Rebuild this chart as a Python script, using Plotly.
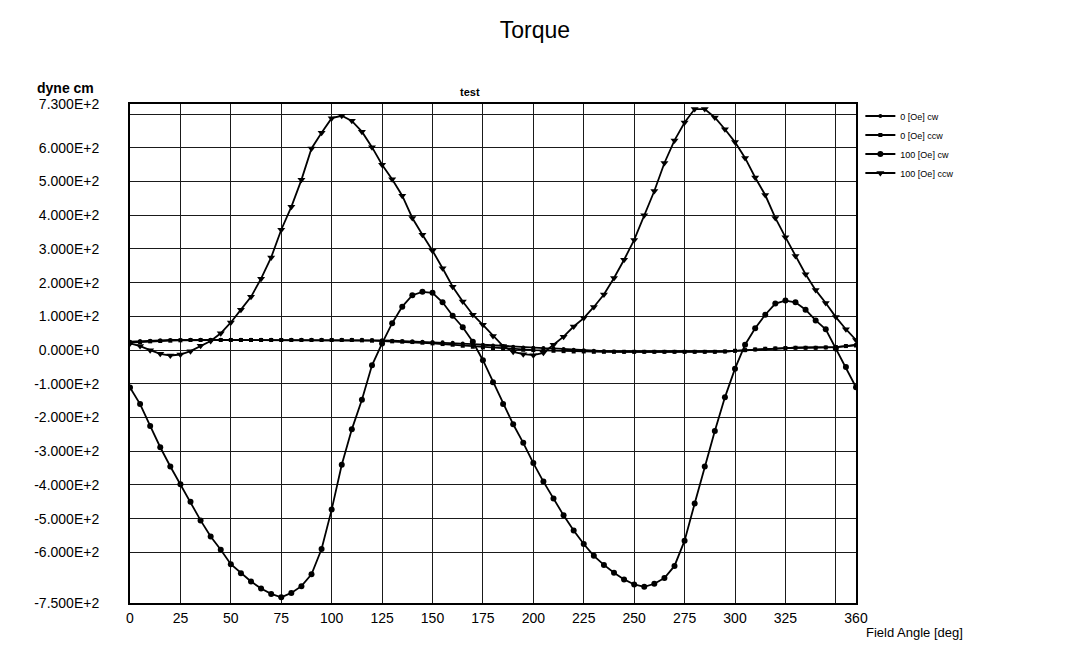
import plotly.graph_objects as go

# ---- data ----
angle = list(range(0, 361, 5))

oe0_cw = [25, 27, 28, 29, 30, 30, 31, 31, 31, 31, 31, 31, 31, 31, 31, 31, 31, 31,
          31, 31, 31, 31, 31, 31, 30, 29, 28, 27, 26, 25, 24, 23, 22, 20, 18, 16,
          14, 12, 10, 8, 7, 6, 5, 3, 1, 0, -2, -3, -4, -5, -5, -5, -5, -5, -5, -5,
          -5, -5, -5, -4, -2, 0, 2, 4, 5, 6, 7, 7, 7, 8, 9, 12, 16]

oe0_ccw = [22, 24, 26, 27, 28, 29, 30, 30, 30, 30, 30, 30, 30, 30, 30, 30, 30, 30,
           30, 30, 30, 30, 30, 29, 28, 27, 26, 25, 24, 22, 20, 18, 16, 13, 10, 8,
           6, 4, 2, 1, 0, -1, -2, -3, -4, -4, -5, -5, -5, -5, -5, -5, -5, -5, -5,
           -5, -5, -5, -5, -4, -2, 0, 2, 4, 5, 6, 7, 7, 7, 8, 9, 12, 14]

oe100_cw = [-111, -160, -225, -288, -345, -398, -450, -505, -553, -592, -635, -662,
            -686, -707, -723, -733, -720, -700, -665, -590, -473, -340, -235, -147,
            -45, 20, 80, 129, 163, 173, 170, 142, 102, 68, 25, -30, -95, -160, -220,
            -275, -335, -390, -440, -490, -535, -575, -610, -637, -660, -680, -695,
            -702, -693, -676, -640, -565, -455, -345, -240, -140, -55, 16, 65, 105,
            138, 147, 142, 120, 88, 62, 5, -50, -110]

oe100_ccw = [20, 12, 0, -11, -16, -13, -3, 13, 27, 50, 82, 120, 158, 212, 275, 357,
             425, 505, 598, 645, 688, 695, 680, 648, 602, 550, 507, 458, 392, 342,
             295, 243, 188, 144, 105, 75, 42, 12, -5, -12, -15, -8, 16, 40, 70, 95,
             128, 165, 214, 268, 327, 400, 472, 555, 622, 675, 715, 715, 690, 655,
             617, 570, 512, 460, 392, 335, 279, 225, 178, 140, 98, 62, 30]

series_names = ["0 [Oe] cw", "0 [Oe] ccw", "100 [Oe] cw", "100 [Oe] ccw"]

x_tickvals = [0, 25, 50, 75, 100, 125, 150, 175, 200, 225, 250, 275, 300, 325, 350, 360]
x_ticktext = ["0", "25", "50", "75", "100", "125", "150", "175", "200", "225", "250",
              "275", "300", "325", "", "360"]

y_tickvals = [730, 700, 600, 500, 400, 300, 200, 100, 0, -100, -200, -300, -400,
              -500, -600, -750]
y_ticktext = ["7.300E+2", "", "6.000E+2", "5.000E+2", "4.000E+2", "3.000E+2",
              "2.000E+2", "1.000E+2", "0.000E+0", "-1.000E+2", "-2.000E+2",
              "-3.000E+2", "-4.000E+2", "-5.000E+2", "-6.000E+2", "-7.500E+2"]

FONT = "Liberation Sans, Arial, sans-serif"

fig = go.Figure()

styles = [
    dict(symbol="circle", size=4),
    dict(symbol="square", size=4),
    dict(symbol="circle", size=6),
    dict(symbol="triangle-down", size=7),
]
values = [oe0_cw, oe0_ccw, oe100_cw, oe100_ccw]

for name, vals, st in zip(series_names, values, styles):
    fig.add_trace(go.Scatter(
        x=angle, y=vals, name=name, mode="lines+markers",
        line=dict(color="black", width=1.8),
        marker=dict(color="black", symbol=st["symbol"], size=st["size"]),
    ))

# figure is drawn 8px in from the page corner (browser body margin)
fig.update_layout(
    width=1070, height=644,
    margin=dict(l=122, r=222, t=96, b=49),
    paper_bgcolor="white", plot_bgcolor="white",
    font=dict(family=FONT, color="black"),
    title=dict(text="Torque", x=0.4925, xanchor="center", y=0.966, yanchor="middle",
               font=dict(size=23, family=FONT, color="black")),
    showlegend=True,
    legend=dict(x=1.006, y=1.005, xanchor="left", yanchor="top",
                bgcolor="rgba(0,0,0,0)", font=dict(size=9, family=FONT),
                tracegroupgap=0),
    xaxis=dict(range=[0, 360], tickvals=x_tickvals, ticktext=x_ticktext,
               showgrid=True, gridcolor="#1a1a1a", gridwidth=1,
               showline=True, linecolor="black", linewidth=2, mirror=True,
               zeroline=False, ticks="", tickfont=dict(size=14, family=FONT),
               ticklabelstandoff=1),
    yaxis=dict(range=[-750, 730], tickvals=y_tickvals, ticktext=y_ticktext,
               showgrid=True, gridcolor="#1a1a1a", gridwidth=1,
               showline=True, linecolor="black", linewidth=2, mirror=True,
               zeroline=False, ticks="", tickfont=dict(size=14, family=FONT),
               ticklabelstandoff=26),
    annotations=[
        dict(text="<b>dyne cm</b>", xref="paper", yref="paper", x=-0.0895, y=1.0,
             xanchor="center", yanchor="middle", yshift=16, showarrow=False,
             font=dict(size=14, family=FONT)),
        dict(text="<b>test</b>", xref="paper", yref="paper", x=0.468, y=1.0,
             xanchor="center", yanchor="middle", yshift=12, showarrow=False,
             font=dict(size=11, family=FONT)),
        dict(text="Field Angle [deg]", xref="paper", yref="paper", x=1.081, y=0,
             xanchor="center", yanchor="middle", yshift=-29, showarrow=False,
             font=dict(size=13, family=FONT)),
    ],
)

fig.write_html("out.html")
